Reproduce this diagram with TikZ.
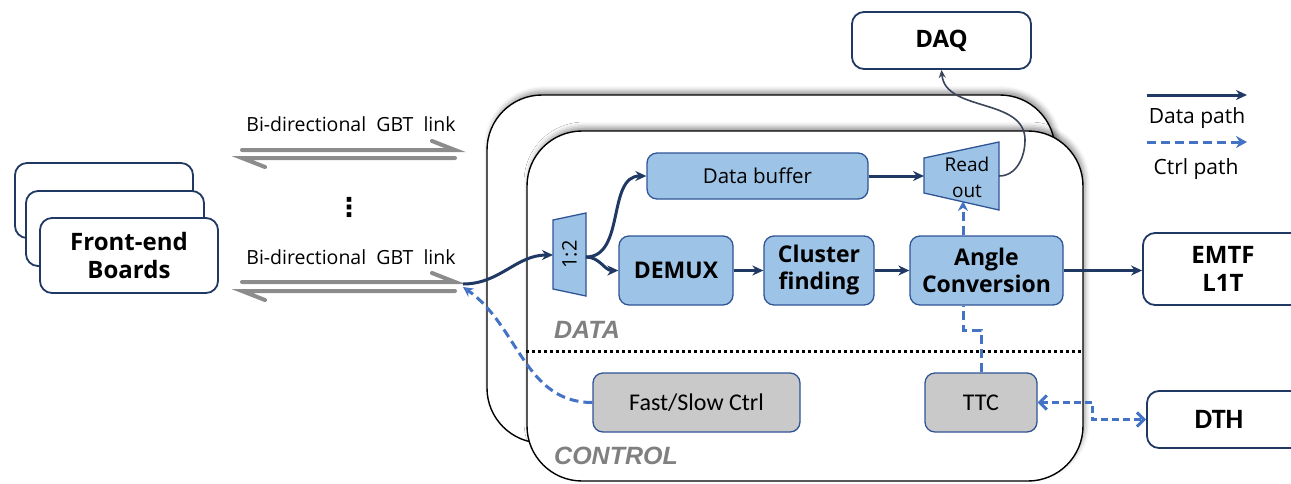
\documentclass[tikz,border=0pt]{standalone}
\usepackage{fontspec}
\setmainfont{Open Sans}
\newfontfamily\narrowfont{Carlito}
\newfontfamily\tagfont{Liberation Sans}
\newfontfamily\dotfont{DejaVu Sans}
\usetikzlibrary{positioning,arrows.meta,shadows.blur}
\definecolor{navy}{RGB}{32,56,100}
\definecolor{ctrlblue}{RGB}{68,114,196}
\definecolor{blockblue}{RGB}{157,195,230}
\definecolor{blockedge}{RGB}{47,85,151}
\definecolor{ctrlgray}{RGB}{201,201,201}
\definecolor{linkgray}{RGB}{140,140,140}
\definecolor{slate}{RGB}{60,70,90}

\begin{document}
\begin{tikzpicture}[x=1pt,y=1pt,
    outbox/.style={draw=navy, line width=1.8pt, fill=white, rounded corners=12pt, inner sep=0pt,
        font=\fontsize{24}{28}\selectfont\bfseries, align=center},
    block/.style={draw=blockedge, line width=1.3pt, fill=blockblue, rounded corners=10pt, inner sep=0pt,
        font=\fontsize{23}{27}\selectfont\bfseries, align=center},
    ctrlblock/.style={draw=blockedge, line width=1.3pt, fill=ctrlgray, rounded corners=10pt, inner sep=0pt,
        font=\narrowfont\fontsize{24}{27}\selectfont},
    fpga/.style={draw=black, line width=1.4pt, fill=white, rounded corners=55pt, inner sep=0pt,
        blur shadow={shadow xshift=2pt, shadow yshift=4pt, shadow blur radius=5pt}},
    datapath/.style={draw=navy, line width=3pt, -{Stealth[length=11pt,width=10pt]}},
    ctrlpath/.style={draw=ctrlblue, line width=3pt, dash pattern=on 9pt off 5pt},
    gbt/.style={draw=linkgray, line width=4pt, line cap=round},
    tag/.style={text=gray, font=\tagfont\fontsize{25}{28}\selectfont\bfseries\itshape},
    plain/.style={font=\fontsize{19.5}{22}\selectfont}
]
\useasboundingbox (0,0) rectangle (1291,-483);

% FPGA board outlines
\node[fpga, minimum width=568pt, minimum height=348pt] (fpgaback) at (771,-269) {};
\node[fpga, minimum width=556pt, minimum height=350pt] (fpga) at (805,-306) {};
\draw[line width=3pt, dash pattern=on 3pt off 3pt] (fpga.west |- 0,-351) -- (fpga.east |- 0,-351);
\node[tag] (datatag) at (587,-330) {DATA};
\node[tag] (ctrltag) at (616,-456) {CONTROL};

% front-end boards
\node[outbox, minimum width=178pt, minimum height=75pt] (fe1) at (104,-200.5) {};
\node[outbox, minimum width=178pt, minimum height=75pt] (fe2) at (115,-228.5) {};
\node[outbox, minimum width=178pt, minimum height=75pt] (fe3) at (129,-255.5) {Front-end\\Boards};

% GBT links
\node[plain] (gbtA) at (351,-124) {Bi-directional \ GBT \ link};
\node[plain] (gbtB) at (351,-257) {Bi-directional \ GBT \ link};
\node[font=\dotfont\fontsize{26}{26}\selectfont\bfseries] (dots) at (349,-207) {⋮};
\coordinate (lnkAl) at (242,-150);
\coordinate (lnkAr) at (455,-150);
\coordinate (lnkBl) at (242,-282);
\coordinate (lnkBr) at (455,-282);
\coordinate (lnkBend) at (463,-284);
\draw[gbt] (lnkAl) -- (lnkAr) -- ++(-23,9);
\draw[gbt] ([yshift=-8pt]lnkAr) -- ([yshift=-8pt]lnkAl) -- ++(23,-9);
\draw[gbt] (lnkBl) -- (lnkBr) -- ++(-23,9);
\draw[gbt] ([yshift=-9pt]lnkBr) -- ([yshift=-9pt]lnkBl) -- ++(23,-9);

% outside systems
\node[outbox, minimum width=179pt, minimum height=57pt] (daq) at (941.5,-40.5) {DAQ};
\node[outbox, minimum width=160pt, minimum height=72pt, text width=140pt] (emtf) at (1223,-269) {EMTF\\L1T\hspace*{22pt}};
\node[outbox, minimum width=156pt, minimum height=57pt, font=\narrowfont\fontsize{28}{30}\selectfont\bfseries] (dth) at (1225,-419.5) {DTH\hspace*{12pt}};

% processing blocks
\draw[fill=blockblue, draw=blockedge, line width=1.3pt] (553,-220) -- (586,-213) -- (586,-296) -- (553,-289) -- cycle;
\node[rotate=90, font=\fontsize{20}{20}\selectfont] (mux) at (569.5,-254.5) {1:2};
\coordinate (muxin) at (553,-255);
\coordinate (muxout) at (586,-257);
\node[block, minimum width=221pt, minimum height=46pt, font=\fontsize{20.5}{24}\selectfont] (buf) at (757.5,-176) {Data buffer};
\node[block, minimum width=114pt, minimum height=69pt] (demux) at (676,-270.5) {DEMUX};
\node[block, minimum width=110pt, minimum height=69pt] (clus) at (819,-270.5) {Cluster\\finding};
\node[block, minimum width=153pt, minimum height=69pt] (angle) at (986.5,-270.5) {Angle\\Conversion};
\draw[fill=blockblue, draw=blockedge, line width=1.3pt] (924,-158) -- (999,-142) -- (999,-210) -- (924,-193) -- cycle;
\node[align=center, font=\fontsize{19}{26}\selectfont] (ro) at (967,-177) {Read\\out};
\coordinate (roin) at (924,-176);
\coordinate (roout) at (999,-176);
\coordinate (robot) at (963,-201);
\node[ctrlblock, minimum width=207pt, minimum height=59pt] (fsc) at (696.5,-402.5) {Fast/Slow Ctrl};
\node[ctrlblock, minimum width=112pt, minimum height=59pt] (ttc) at (981,-402.5) {TTC};

% data path
\draw[datapath] (lnkBend) to[out=0,in=180] (muxin);
\draw[datapath] (muxout) to[out=0,in=180] (buf.west);
\draw[datapath] (muxout) to[out=0,in=180] (demux.west);
\draw[datapath] (demux) -- (clus);
\draw[datapath] (clus) -- (angle);
\draw[datapath] (angle.east) -- (angle.east -| emtf.west);
\draw[datapath] (buf.east) -- (roin);
\draw[slate, line width=1.6pt, -{Stealth[length=8pt,width=7pt]}] (roout) to[out=0,in=-90] (1025,-140) to[out=90,in=-85] (daq.south);

% control path
\draw[ctrlpath, -{Stealth[length=10pt,width=10pt,open]}] (fsc.west) to[out=180,in=-35] ([yshift=-3pt]lnkBend);
\draw[ctrlpath] (ttc.north) -- ++(0,42) -| ([xshift=-23.5pt]angle.south);
\draw[ctrlpath, -{Stealth[length=10pt,width=10pt]}] ([xshift=-23.5pt]angle.north) -- (robot);
\draw[ctrlpath, dash pattern=on 7pt off 4pt, {Straight Barb[length=7pt,width=14pt]}-{Straight Barb[length=7pt,width=14pt]}] (ttc.east) -- ++(55,0) |- (dth.west);

% legend
\coordinate (dlegA) at (1147,-95);
\coordinate (dlegB) at (1247,-95);
\coordinate (clegA) at (1147,-142);
\coordinate (clegB) at (1247,-142);
\draw[datapath] (dlegA) -- (dlegB);
\draw[ctrlpath, -{Stealth[length=11pt,width=12pt]}] (clegA) -- (clegB);
\node[font=\fontsize{21}{24}\selectfont] (dleg) at (1197,-118) {Data path};
\node[font=\fontsize{21}{24}\selectfont] (cleg) at (1196,-169) {Ctrl path};
\end{tikzpicture}
\end{document}
